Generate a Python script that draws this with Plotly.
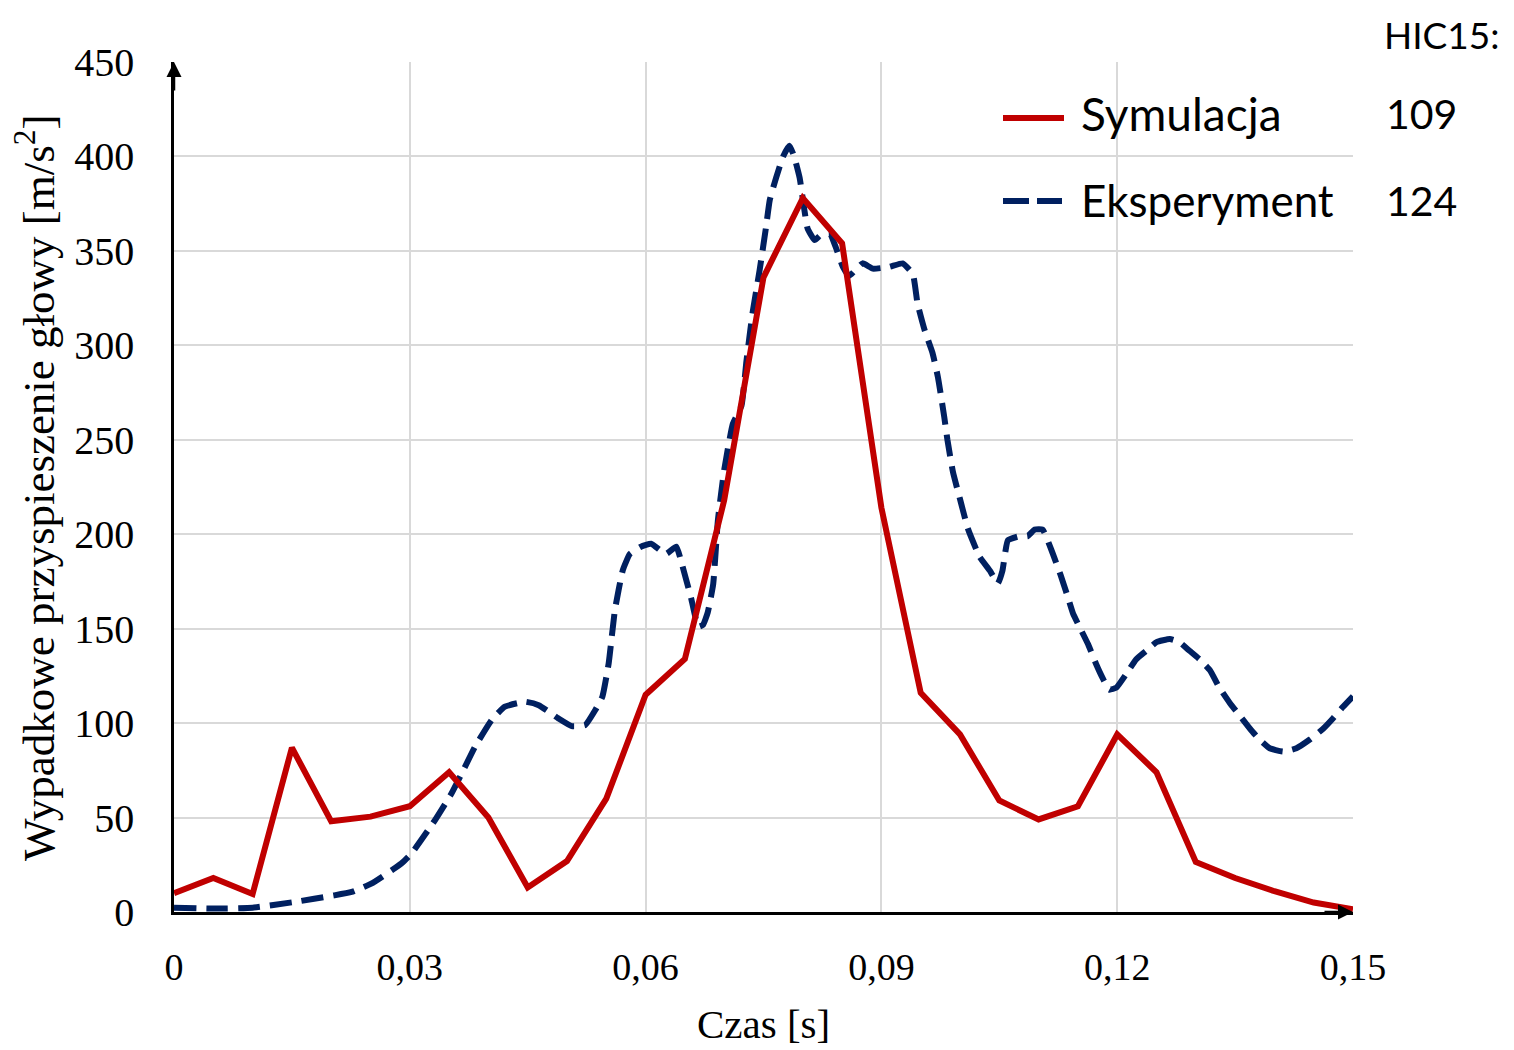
import plotly.graph_objects as go

# ---- data ----
sim_t = [0.000, 0.005, 0.010, 0.015, 0.020, 0.025, 0.030, 0.035, 0.040, 0.045,
         0.050, 0.055, 0.060, 0.065, 0.070, 0.075, 0.080, 0.085, 0.090, 0.095,
         0.100, 0.105, 0.110, 0.115, 0.120, 0.125, 0.130, 0.135, 0.140, 0.145, 0.150]
sim_a = [10, 18, 9.5, 87, 48, 50.5, 56, 74, 50, 13,
         27, 60, 115, 134, 218, 336, 378, 354, 214, 116,
         94, 59, 49, 56, 94, 74, 26.5, 18, 11, 5, 1.5]

exp_t = [0.0, 0.005, 0.010, 0.0153, 0.0204, 0.0226, 0.0251, 0.0289, 0.0302, 0.0332,
         0.0353, 0.0366, 0.0383, 0.0404, 0.0421, 0.0447, 0.0464, 0.0489, 0.0506, 0.0523,
         0.0536, 0.0545, 0.0553, 0.0561, 0.0571, 0.0580, 0.0594, 0.0607, 0.0626, 0.0639,
         0.0647, 0.0658, 0.0667, 0.0673, 0.0679, 0.0686, 0.0692, 0.0700, 0.0711, 0.0722,
         0.0728, 0.0736, 0.0745, 0.0753, 0.0758, 0.0766, 0.0775, 0.0783, 0.0789, 0.0796,
         0.0802, 0.0806, 0.0815, 0.0823, 0.0834, 0.0842, 0.0851, 0.0859, 0.0876, 0.0889,
         0.0910, 0.0927, 0.0940, 0.0946, 0.0955, 0.0965, 0.0972, 0.0980, 0.0984, 0.0991,
         0.1001, 0.1010, 0.1025, 0.1038, 0.1048, 0.1054, 0.1061, 0.1076, 0.1086, 0.1095,
         0.1105, 0.1116, 0.1128, 0.1137, 0.1144, 0.1152, 0.1163, 0.1173, 0.1182, 0.1190,
         0.1199, 0.1211, 0.1224, 0.1237, 0.1250, 0.1267, 0.1279, 0.1292, 0.1305, 0.1318,
         0.1330, 0.1343, 0.1356, 0.1369, 0.1381, 0.1394, 0.1411, 0.1428, 0.1445, 0.1462,
         0.1475, 0.1487, 0.1500]
exp_a = [2.3, 1.8, 2.3, 5.3, 8.8, 10.6, 15, 25.6, 30.9, 48.6,
         62.7, 73.3, 87.5, 101.6, 108.7, 111.3, 109.5, 102.5, 98.4, 98.9,
         106.9, 114, 131.6, 160, 181, 189.6, 193.4, 195, 189.6, 193.4,
         183, 166, 151, 152, 158.5, 173.6, 207.5, 234, 258.5, 268,
         290.6, 317, 339.6, 362, 377, 388.7, 400, 405.7, 400, 388.7,
         371.7, 362, 355.7, 358.5, 359.4, 351.9, 341.5, 336.8, 343.4, 340.6,
         341.5, 343.4, 337.7, 322, 308, 296, 283, 262, 250, 233,
         217, 203, 188, 180.7, 173.9, 180.7, 196.8, 199, 199, 202.5,
         202.5, 192, 178.4, 167, 157.8, 151, 141.7, 131.4, 123.4, 117.7,
         118.8, 125.7, 133.7, 138.3, 142.9, 144.5, 142.9, 138.3, 133.7, 128,
         118.8, 110.8, 103.9, 97, 91.3, 86.7, 84.9, 86.7, 91.3, 97,
         102.7, 108.5, 114.2]

x_ticks = [0, 0.03, 0.06, 0.09, 0.12, 0.15]
x_ticklabels = ["0", "0,03", "0,06", "0,09", "0,12", "0,15"]
y_ticks = [0, 50, 100, 150, 200, 250, 300, 350, 400, 450]

series_names = ["Symulacja", "Eksperyment"]
hic_values = ["109", "124"]
hic_header = "HIC15:"
x_title = "Czas [s]"
y_title = "Wypadkowe przyspieszenie głowy [m/s<sup>2</sup>]"

RED = "#C00000"
BLUE = "#002060"
SERIF = "Liberation Serif"
SANS = "Lato"

OFF = 8  # page body margin
W, H = 1514 - OFF, 1050 - OFF
L, T = 174 - OFF, 62 - OFF
R = W - (1353 - OFF)
B = H - (912 - OFF)
pw, ph = W - L - R, H - T - B


def px(xp):
    # xp given in page pixels
    return (xp - OFF - L) / pw


def py(yp):
    return (H - B - (yp - OFF)) / ph


fig = go.Figure()
fig.add_trace(go.Scatter(x=exp_t, y=exp_a, mode="lines", name=series_names[1],
                         line=dict(color=BLUE, width=6, dash="22px,10px", shape="spline", smoothing=0.4),
                         cliponaxis=False, showlegend=False))
fig.add_trace(go.Scatter(x=sim_t, y=sim_a, mode="lines", name=series_names[0],
                         line=dict(color=RED, width=6),
                         cliponaxis=False, showlegend=False))

fig.update_layout(
    width=W, height=H,
    margin=dict(l=L, r=R, t=T, b=B, pad=0),
    paper_bgcolor="white", plot_bgcolor="white",
    showlegend=False,
    xaxis=dict(range=[0, 0.15], tickvals=x_ticks, ticktext=x_ticklabels,
               showgrid=True, gridcolor="#D9D9D9", gridwidth=2, zeroline=False,
               showline=True, linecolor="black", linewidth=2.5,
               ticks="outside", ticklen=20, tickcolor="rgba(0,0,0,0)",
               tickfont=dict(family=SERIF, size=38, color="black")),
    yaxis=dict(range=[0, 450], tickvals=y_ticks,
               showgrid=True, gridcolor="#D9D9D9", gridwidth=2, zeroline=False,
               showline=True, linecolor="black", linewidth=2.5,
               ticks="outside", ticklen=29, tickcolor="rgba(0,0,0,0)",
               tickfont=dict(family=SERIF, size=40, color="black")),
)

# white legend background covering gridlines
fig.add_shape(type="rect", xref="paper", yref="paper", layer="between",
              x0=px(942), x1=px(1514), y0=py(240), y1=py(66),
              fillcolor="white", line=dict(width=0))
fig.add_shape(type="rect", xref="paper", yref="paper", layer="between",
              x0=px(1065), x1=px(1514), y0=py(240), y1=py(0),
              fillcolor="white", line=dict(width=0))

# legend line samples
fig.add_shape(type="line", xref="paper", yref="paper", layer="above",
              x0=px(1003), x1=px(1064), y0=py(118), y1=py(118),
              line=dict(color=RED, width=6))
fig.add_shape(type="line", xref="paper", yref="paper", layer="above",
              x0=px(1003), x1=px(1062), y0=py(201), y1=py(201),
              line=dict(color=BLUE, width=6, dash="26px,8px"))

anns = [
    (1079, 114, series_names[0], "left", "middle", 46),
    (1079, 200, series_names[1], "left", "middle", 44),
    (1384, 114, hic_values[0], "left", "middle", 41),
    (1384, 200, hic_values[1], "left", "middle", 41),
    (1382, 10, hic_header, "left", "top", 37),
]
for xp, yp, txt, anc, yanc, fs in anns:
    fig.add_annotation(x=px(xp), y=py(yp), xref="paper", yref="paper", text=txt,
                       showarrow=False, xanchor=anc, yanchor=yanc,
                       font=dict(family=SANS, size=fs, color="black"))

# axis titles
fig.add_annotation(x=px(763), y=py(1024), xref="paper", yref="paper", text=x_title,
                   showarrow=False, xanchor="center", yanchor="middle",
                   font=dict(family=SERIF, size=41, color="black"))
fig.add_annotation(x=px(35), y=py(488), xref="paper", yref="paper", text=y_title,
                   showarrow=False, xanchor="center", yanchor="middle", textangle=-90,
                   font=dict(family=SERIF, size=45, color="black"))

# axis arrows
fig.add_annotation(x=0, y=1.0, xref="paper", yref="paper", text="", showarrow=True,
                   ax=0, ay=30, arrowhead=2, arrowsize=1.2, arrowwidth=2.5, arrowcolor="black")
fig.add_annotation(x=1.0, y=0, xref="paper", yref="paper", text="", showarrow=True,
                   ax=-30, ay=0, arrowhead=2, arrowsize=1.2, arrowwidth=2.5, arrowcolor="black")

fig.write_html("out.html")
